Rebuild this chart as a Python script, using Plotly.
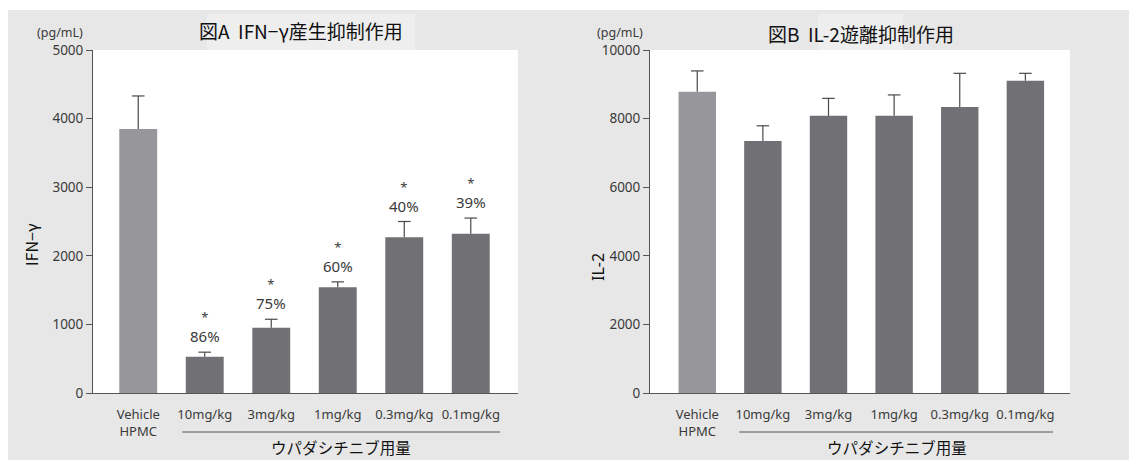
import plotly.graph_objects as go

# Dose groups
categories = ["Vehicle<br>HPMC", "10mg/kg", "3mg/kg", "1mg/kg", "0.3mg/kg", "0.1mg/kg"]

# Panel A: IFN-γ (pg/mL)
ifn_mean = [3850, 530, 950, 1540, 2270, 2320]
ifn_err = [480, 65, 125, 80, 230, 230]
ifn_pct = ["", "86%", "75%", "60%", "40%", "39%"]

# Panel B: IL-2 (pg/mL)
il2_mean = [8780, 7350, 8080, 8080, 8340, 9100]
il2_err = [610, 440, 510, 610, 980, 220]

ifn_ticks = [0, 1000, 2000, 3000, 4000, 5000]
il2_ticks = [0, 2000, 4000, 6000, 8000, 10000]

W, H = 1129, 460
VEH_COLOR = "#97979b"
DOSE_COLOR = "#717175"
ERR_COLOR = "#4a4a4a"
TXT = "#3a3a3a"
FONT = "Noto Sans, Noto Sans CJK JP, sans-serif"
JP = "Noto Sans CJK JP, sans-serif"

def px_x(p):
    return p / W

def px_y(p):
    return 1 - p / H

bar_colors = [VEH_COLOR] + [DOSE_COLOR] * 5
fig = go.Figure()

for mean, err, xa, ya in [(ifn_mean, ifn_err, "x", "y"), (il2_mean, il2_err, "x2", "y2")]:
    xs = list(range(len(categories)))
    fig.add_trace(go.Bar(
        x=xs, y=mean, xaxis=xa, yaxis=ya,
        width=0.57, marker=dict(color=bar_colors, line=dict(width=0)),
        showlegend=False, hoverinfo="skip",
    ))
    # upward whiskers from each bar top
    wx, wy = [], []
    for x, m, e in zip(xs, mean, err):
        wx += [x, x, None]
        wy += [m, m + e, None]
    fig.add_trace(go.Scatter(
        x=wx, y=wy, xaxis=xa, yaxis=ya, mode="lines",
        line=dict(color=ERR_COLOR, width=1.2), showlegend=False, hoverinfo="skip",
    ))
    # cap at the upper end of each whisker
    fig.add_trace(go.Scatter(
        x=xs, y=[m + e for m, e in zip(mean, err)], xaxis=xa, yaxis=ya, mode="markers",
        marker=dict(symbol="line-ew", size=9, line=dict(color=ERR_COLOR, width=1.2)),
        showlegend=False, hoverinfo="skip",
    ))

yaxis_common = dict(showgrid=False, zeroline=False, showline=True, linecolor="#555555",
                    linewidth=1, ticks="outside", ticklen=6, tickcolor="#555555",
                    automargin=False,
                    tickfont=dict(family=FONT, size=13.5, color=TXT))
xaxis_common = dict(tickmode="array", tickvals=list(range(6)), ticktext=categories,
                    showline=True, linecolor="#555555", linewidth=1, ticks="",
                    showgrid=False, zeroline=False, automargin=False, ticklabelstandoff=9,
                    tickfont=dict(family=FONT, size=13, color=TXT))

fig.update_layout(
    width=W, height=H, margin=dict(l=0, r=0, t=0, b=0, pad=0),
    paper_bgcolor="white", plot_bgcolor="white",
    xaxis=dict(domain=[px_x(93), px_x(518)], range=[-0.68, 5.71], anchor="y", **xaxis_common),
    yaxis=dict(domain=[px_y(393), px_y(50)], range=[0, 5000], tickmode="array",
               tickvals=ifn_ticks, ticktext=[str(v) for v in ifn_ticks], anchor="x", **yaxis_common),
    xaxis2=dict(domain=[px_x(650), px_x(1070)], range=[-0.72, 5.68], anchor="y2", **xaxis_common),
    yaxis2=dict(domain=[px_y(393), px_y(50)], range=[0, 10000], tickmode="array",
                tickvals=il2_ticks, ticktext=[str(v) for v in il2_ticks], anchor="x2", **yaxis_common),
)

shapes = [
    # page background
    dict(type="rect", xref="paper", yref="paper", x0=px_x(8), x1=1, y0=0, y1=px_y(10),
         fillcolor="#e7e7e7", line=dict(width=0), layer="below"),
    # title plates
    dict(type="rect", xref="paper", yref="paper", x0=px_x(207), x1=px_x(415), y0=px_y(50), y1=px_y(14),
         fillcolor="#eeeeee", line=dict(width=0), layer="below"),
    dict(type="rect", xref="paper", yref="paper", x0=px_x(818), x1=px_x(903), y0=px_y(50), y1=px_y(14),
         fillcolor="#eeeeee", line=dict(width=0), layer="below"),
    # white plotting areas
    dict(type="rect", xref="x domain", yref="y domain", x0=0, x1=1, y0=0, y1=1,
         fillcolor="white", line=dict(width=0), layer="below"),
    dict(type="rect", xref="x2 domain", yref="y2 domain", x0=0, x1=1, y0=0, y1=1,
         fillcolor="white", line=dict(width=0), layer="below"),
    # dose bracket lines
    dict(type="line", xref="x", yref="paper", x0=0.66, x1=5.44, y0=px_y(432), y1=px_y(432),
         line=dict(color="#555555", width=1)),
    dict(type="line", xref="x2", yref="paper", x0=0.64, x1=5.42, y0=px_y(432), y1=px_y(432),
         line=dict(color="#555555", width=1)),
]
fig.update_layout(shapes=shapes)

def label(text, x, y, size, family=FONT, color=TXT, xref="paper", **kw):
    return dict(text=text, xref=xref, yref="paper", x=x, y=y, xanchor="center", yanchor="middle",
                showarrow=False, font=dict(family=family, size=size, color=color), **kw)

ann = []
# titles
ann.append(label("図A  IFN−γ産生抑制作用", px_x(301), px_y(31), 19, JP, "#111111"))
ann.append(label("図B  IL-2遊離抑制作用", px_x(861), px_y(33), 19, JP, "#111111"))
# unit labels
for cx in (60, 620):
    ann.append(label("(pg/mL)", px_x(cx), px_y(32), 12.5))
# y-axis titles
ann.append(label("IFN−γ", px_x(31), px_y(245), 16, JP, "#111111", textangle=-90))
ann.append(label("IL-2", px_x(598), px_y(267), 16, FONT, "#111111", textangle=-90))
# dose group label
for xr in ("x", "x2"):
    ann.append(label("ウパダシチニブ用量", 3.05, px_y(447), 15.5, JP, "#111111", xref=xr))
# significance marks and inhibition rates
for i, pct in enumerate(ifn_pct):
    if not pct:
        continue
    top = ifn_mean[i] + ifn_err[i]
    ann.append(dict(text="<span style='font-size:13px'>*</span><br>" + pct,
                    xref="x", yref="y", x=i, y=top, xanchor="center", yanchor="bottom",
                    yshift=4, showarrow=False, align="center",
                    font=dict(family=FONT, size=15, color=TXT)))
fig.update_layout(annotations=ann)

fig.write_html("out.html")
